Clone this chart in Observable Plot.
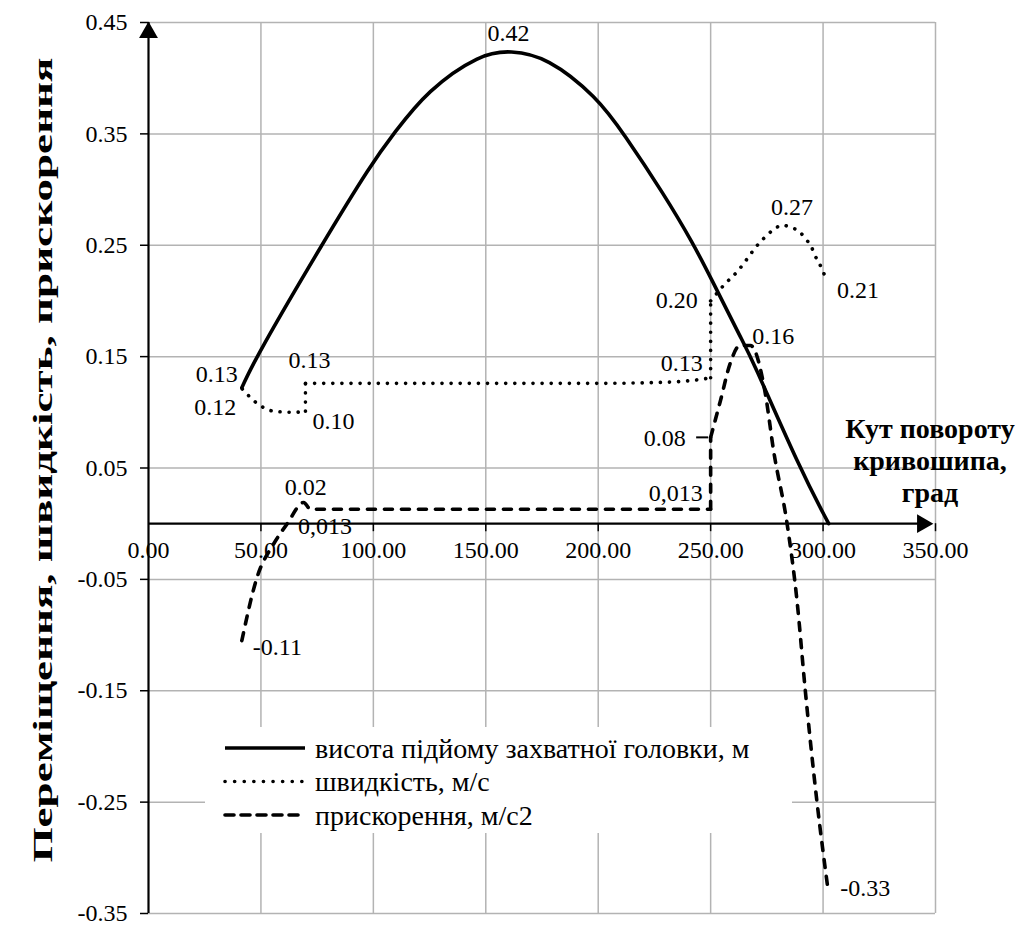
<!DOCTYPE html>
<html><head><meta charset="utf-8">
<script src="https://cdn.jsdelivr.net/npm/d3@7"></script>
<script src="https://cdn.jsdelivr.net/npm/@observablehq/plot@0.6"></script>
<style>body{margin:0;background:#fff}#chart{position:relative;width:1019px;height:925px}</style>
</head><body><div id="chart"></div>
<script>
// ---- data ----
const xTicks = [0, 50, 100, 150, 200, 250, 300, 350];
const yTicks = [-0.35, -0.25, -0.15, -0.05, 0.05, 0.15, 0.25, 0.35, 0.45];

const seriesNames = ["висота підйому захватної головки, м", "швидкість, м/с", "прискорення, м/с2"];

const heightX = [41.5, 47.6, 77.2, 99.4, 109, 123.9, 147.6, 161, 177.3, 199.5, 211.4, 229.2, 242.4, 250, 264.6, 267.7, 290, 302.5];
const heightY = [0.122, 0.149, 0.251, 0.324, 0.350, 0.389, 0.422, 0.425, 0.419, 0.383, 0.350, 0.296, 0.251, 0.221, 0.162, 0.151, 0.048, 0.0];

const speedX = [41.7, 49, 55.7, 64.6, 69.8, 69.8, 100, 150, 200, 230, 247, 250, 250, 255.8, 261.7, 272.1, 278, 281.7, 285.7, 289.6, 292.1, 294.7, 296.6, 298.5, 301.7];
const speedY = [0.121, 0.107, 0.101, 0.100, 0.101, 0.126, 0.126, 0.126, 0.126, 0.127, 0.130, 0.131, 0.200, 0.214, 0.226, 0.253, 0.264, 0.268, 0.266, 0.262, 0.256, 0.249, 0.240, 0.233, 0.218];

const accelX = [41.5, 48.3, 55.7, 61.7, 69, 72, 150, 250, 250, 254.3, 258.7, 263, 267.7, 274.3, 278, 284, 288.4, 292.1, 297.3, 302.3];
const accelY = [-0.105, -0.048, -0.018, 0.0, 0.019, 0.013, 0.013, 0.013, 0.0775, 0.110, 0.144, 0.160, 0.160, 0.117, 0.0655, 0.0, -0.069, -0.150, -0.250, -0.330];

const labelX = [161, 41.5, 41.7, 69.8, 69.8, 250, 250, 281.7, 301.7, 265, 250, 250, 69, 70, 41.5, 302.3];
const labelY = [0.425, 0.122, 0.121, 0.126, 0.101, 0.131, 0.200, 0.268, 0.218, 0.160, 0.0775, 0.012, 0.019, 0.013, -0.105, -0.330];
const labelText = ["0.42", "0.13", "0.12", "0.13", "0.10", "0.13", "0.20", "0.27", "0.21", "0.16", "0.08", "0,013", "0.02", "0,013", "-0.11", "-0.33"];

const yTitle = "Переміщення, швидкість, прискорення";
const xTitle = ["Кут повороту", "кривошипа,", "град"];

// ---- layout / styles (not data) ----
const labelPlace = [
  ["middle", -2, -17], ["end", -4, -13], ["end", -6, 18], ["start", -17, -23],
  ["start", 7, 10], ["end", -8, -14], ["end", -13, -1], ["middle", 10, -18],
  ["start", 10, 9], ["start", 8, -9], ["end", -25, 1], ["end", -8, -17],
  ["middle", 2, -15], ["start", -8, 17], ["start", 11, 7], ["start", 12, -3]
];
const FONT = "'Liberation Serif', 'Times New Roman', serif";
const FS = 24;

const toRows = (xs, ys) => xs.map((x, i) => ({x, y: ys[i]}));
const height = toRows(heightX, heightY);
const speed = toRows(speedX, speedY);
const accel = toRows(accelX, accelY);
const labels = labelText.map((t, i) => ({x: labelX[i], y: labelY[i], text: t}));

const xDom = [xTicks[0], xTicks[xTicks.length - 1]];
const yDom = [yTicks[0], yTicks[yTicks.length - 1]];

const lineStyles = [
  {stroke: "black", strokeWidth: 3.6},
  {stroke: "black", strokeWidth: 3.6, strokeDasharray: "0.1 9", strokeLinecap: "round"},
  {stroke: "black", strokeWidth: 3.6, strokeDasharray: "8 9", strokeLinecap: "round"}
];

// split a series into runs of increasing x; runs are smooth, jumps between runs straight
function runs(rows) {
  const out = []; let cur = [rows[0]];
  for (let i = 1; i < rows.length; i++) {
    if (rows[i].x > rows[i - 1].x) cur.push(rows[i]);
    else { out.push(cur); cur = [rows[i]]; }
  }
  out.push(cur);
  return out;
}
function seriesMarks(rows, style, curve) {
  const rs = runs(rows);
  const m = rs.map(r => Plot.line(r, {x: "x", y: "y", curve, ...style}));
  for (let i = 1; i < rs.length; i++) {
    m.push(Plot.line([rs[i - 1][rs[i - 1].length - 1], rs[i][0]], {x: "x", y: "y", ...style}));
  }
  return m;
}

const marks = [
  Plot.gridX(xTicks.filter(d => d > 0), {stroke: "#b3b3b3", strokeOpacity: 1, strokeWidth: 1.5}),
  Plot.gridY(yTicks, {stroke: "#b3b3b3", strokeOpacity: 1, strokeWidth: 1.5}),
  Plot.axisY(yTicks, {anchor: "left", tickSize: 8, tickPadding: 13, tickFormat: d => d.toFixed(2),
    fontSize: FS, fontFamily: FONT, label: null, stroke: "black", strokeWidth: 1.5}),
  Plot.ruleX(xTicks.filter(d => d > 0), {y1: () => 0, y2: () => 0, insetBottom: -8, stroke: "black", strokeWidth: 1.5}),
  Plot.text(xTicks, {x: d => d, y: () => 0, dy: 27, text: d => d.toFixed(2), fontSize: FS, fontFamily: FONT, fill: "black"}),
  Plot.ruleX([xDom[0]], {y1: yDom[0], y2: yDom[1], stroke: "black", strokeWidth: 2.2}),
  Plot.ruleY([0], {x1: xDom[0], x2: xDom[1], insetRight: 8, stroke: "black", strokeWidth: 2.2}),
  Plot.dot([0], {x: () => xDom[0], y: () => yDom[1], symbol: "triangle", r: 7, fill: "black", stroke: null, dy: 10}),
  Plot.dot([0], {x: () => xDom[1], y: () => 0, symbol: "triangle", r: 7, fill: "black", stroke: null, rotate: 90, dx: -13}),
  ...seriesMarks(height, lineStyles[0], "basis"),
  ...seriesMarks(speed, lineStyles[1], "monotone-x"),
  ...seriesMarks(accel, lineStyles[2], "monotone-x"),
  Plot.ruleY([labels[10]], {y: "y", x1: "x", x2: "x", insetLeft: -14, insetRight: 2, stroke: "black", strokeWidth: 2}),
  ...labels.map((l, i) => Plot.text([l], {x: "x", y: "y", text: "text", textAnchor: labelPlace[i][0],
    dx: labelPlace[i][1], dy: labelPlace[i][2], fontSize: FS, fontFamily: FONT, fill: "black"}))
];

const svgEl = Plot.plot({
  width: 1019, height: 925,
  marginLeft: 148, marginRight: 84, marginTop: 22, marginBottom: 12,
  x: {domain: xDom, axis: null},
  y: {domain: yDom, axis: null},
  style: `font-family: ${FONT}; font-size: ${FS}px; background: white; color: black;`,
  marks
});
document.getElementById("chart").appendChild(svgEl);

// titles and legend
const svg = d3.select(svgEl);
svg.append("text").attr("transform", "translate(42,460) rotate(-90)")
  .attr("text-anchor", "middle").attr("dy", "0.35em")
  .attr("textLength", 805).attr("lengthAdjust", "spacingAndGlyphs")
  .style("font-family", FONT).style("font-size", "28px").style("font-weight", "bold")
  .text(yTitle);
xTitle.forEach((t, i) => {
  svg.append("text").attr("x", 930).attr("y", 428 + i * 32).attr("dy", "0.35em")
    .attr("text-anchor", "middle")
    .style("font-family", FONT).style("font-size", "28px").style("font-weight", "bold")
    .text(t);
});
const lg = svg.append("g");
lg.append("rect").attr("x", 205).attr("y", 727).attr("width", 587).attr("height", 106).attr("fill", "white");
seriesNames.forEach((name, i) => {
  const cy = 748 + i * 33.5;
  const st = lineStyles[i];
  const ln = lg.append("line").attr("x1", 225).attr("x2", 305).attr("y1", cy).attr("y2", cy)
    .attr("stroke", "black").attr("stroke-width", st.strokeWidth);
  if (st.strokeDasharray) ln.attr("stroke-dasharray", i === 1 ? "0.1 9.5" : "9 7").attr("stroke-linecap", "round");
  lg.append("text").attr("x", 315).attr("y", cy).attr("dy", "0.35em").attr("text-anchor", "start")
    .style("font-family", FONT).style("font-size", "28px").text(name);
});
</script>
</body></html>
